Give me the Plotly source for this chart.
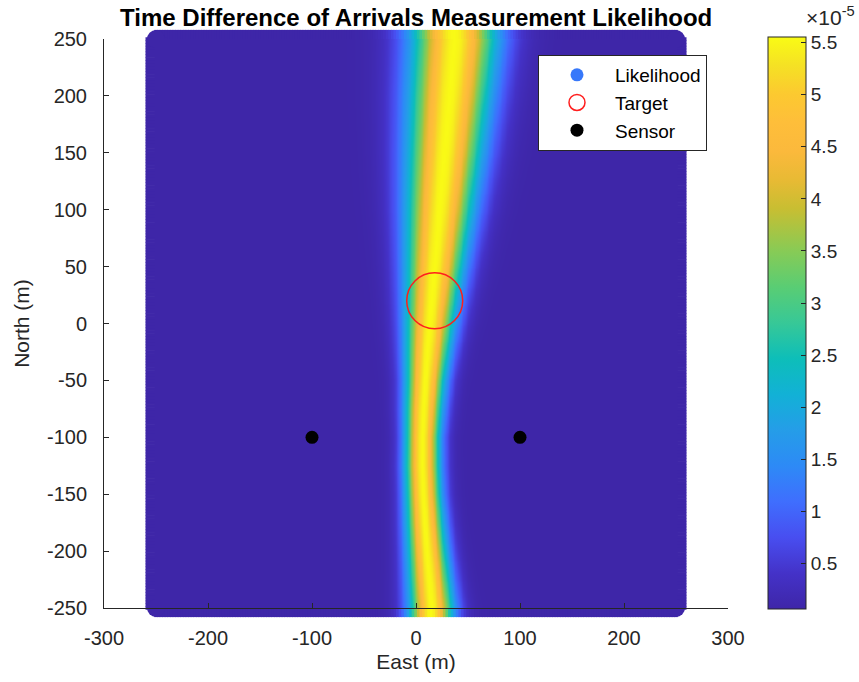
import numpy as np
import plotly.graph_objects as go

# ---------------- data ----------------
sensor_east = [-100, 100]
sensor_north = [-100, -100]
target_east = [18]
target_north = [20]

# ridge of the likelihood: centre (east, m) read at several north levels
ridge_north = [-250, -225, -200, -175, -150, -125, -100, -75, -50, -25, 0,
               25, 50, 75, 100, 125, 150, 175, 200, 225, 250]
ridge_east = [14.6, 12.3, 10.1, 8.1, 6.5, 5.6, 5.7, 6.8, 8.5, 10.5, 12.7,
              15.0, 17.4, 19.8, 22.2, 24.6, 27.1, 29.5, 31.9, 34.4, 36.9]
# spread of the ridge (m) read at coarser north levels
spread_north = [-250, -200, -150, -100, -50, 0, 50, 100, 150, 200, 250]
spread_sigma = [14.5, 13.0, 11.8, 11.5, 13.0, 16.0, 19.0, 22.0, 24.5, 26.5, 28.0]
profile_power = 2.0
peak_likelihood = 5.55e-5
floor_likelihood = 0.068e-5

cbar_ticks = [0.5, 1, 1.5, 2, 2.5, 3, 3.5, 4, 4.5, 5, 5.5]
cbar_ticktext = ["0.5", "1", "1.5", "2", "2.5", "3", "3.5", "4", "4.5", "5", "5.5"]
x_ticks = [-300, -200, -100, 0, 100, 200, 300]
x_ticktext = ["-300", "-200", "-100", "0", "100", "200", "300"]
y_ticks = [-250, -200, -150, -100, -50, 0, 50, 100, 150, 200, 250]
y_ticktext = ["-250", "-200", "-150", "-100", "-50", "0", "50", "100", "150", "200", "250"]

# ---------------- likelihood field on the grid ----------------
step = 2.5
east = np.arange(-250, 250 + step / 2, step)
north = np.arange(-250, 250 + step / 2, step)
E, N = np.meshgrid(east, north)
cen = np.interp(N, ridge_north, ridge_east)
sig = np.interp(N, spread_north, spread_sigma)
Z = floor_likelihood + (peak_likelihood - floor_likelihood) * np.exp(
    -0.5 * np.abs((E - cen) / sig) ** profile_power)

# edge samples of the grid: drawn underneath the field so the scatter-like border pokes out
top_bottom = (np.abs(N) == 250)
left_right = (np.abs(E) == 250)
corners = top_bottom & left_right

parula = [
    [0.0, 'rgb(62,38,168)'],
    [0.0625, 'rgb(68,50,200)'],
    [0.125, 'rgb(72,78,240)'],
    [0.1875, 'rgb(63,110,254)'],
    [0.25, 'rgb(45,138,246)'],
    [0.3125, 'rgb(37,157,232)'],
    [0.375, 'rgb(18,177,214)'],
    [0.4375, 'rgb(13,190,185)'],
    [0.5, 'rgb(55,200,151)'],
    [0.5625, 'rgb(89,205,116)'],
    [0.625, 'rgb(135,203,86)'],
    [0.7, 'rgb(200,190,50)'],
    [0.75, 'rgb(232,186,52)'],
    [0.8, 'rgb(251,185,60)'],
    [0.85, 'rgb(254,190,58)'],
    [0.9, 'rgb(252,201,48)'],
    [0.95, 'rgb(245,225,36)'],
    [1.0, 'rgb(249,251,21)'],
]

FONT = "Liberation Sans, Arial, Helvetica, sans-serif"
AX = "#262626"

fig = go.Figure()
# border pieces (main axes, beneath the field)
fig.add_trace(go.Scatter(
    x=E[top_bottom], y=N[top_bottom], mode="markers", showlegend=False, hoverinfo="skip",
    cliponaxis=False, xaxis="x", yaxis="y",
    marker=dict(symbol="line-ns", size=13,
                line=dict(width=3.5, color=Z[top_bottom], coloraxis="coloraxis")),
))
fig.add_trace(go.Scatter(
    x=E[left_right], y=N[left_right], mode="markers", showlegend=False, hoverinfo="skip",
    cliponaxis=False, xaxis="x", yaxis="y",
    marker=dict(symbol="line-ew", size=15,
                line=dict(width=3.5, color=Z[left_right], coloraxis="coloraxis")),
))
fig.add_trace(go.Scatter(
    x=E[corners], y=N[corners], mode="markers", showlegend=False, hoverinfo="skip",
    cliponaxis=False, xaxis="x", yaxis="y",
    marker=dict(size=18, color=Z[corners], coloraxis="coloraxis", line=dict(width=0)),
))
# likelihood field (overlay axes, drawn above the border pieces)
fig.add_trace(go.Heatmap(
    x=east, y=north, z=Z, coloraxis="coloraxis", zsmooth="best", showlegend=False,
    xaxis="x2", yaxis="y2",
))
fig.add_trace(go.Scatter(
    x=target_east, y=target_north, mode="markers", showlegend=False, cliponaxis=False,
    marker=dict(symbol="circle-open", size=56, color="rgb(255,30,30)", line=dict(width=1.5)),
    xaxis="x2", yaxis="y2",
))
fig.add_trace(go.Scatter(
    x=sensor_east, y=sensor_north, mode="markers", showlegend=False,
    marker=dict(symbol="circle", size=13, color="black"),
    xaxis="x2", yaxis="y2",
))
# legend entries
fig.add_trace(go.Scatter(x=[None], y=[None], mode="markers", name="Likelihood",
                         marker=dict(size=13, color="rgb(55,120,250)")))
fig.add_trace(go.Scatter(x=[None], y=[None], mode="markers", name="Target",
                         marker=dict(symbol="circle-open", size=20, color="rgb(255,30,30)",
                                     line=dict(width=1.5))))
fig.add_trace(go.Scatter(x=[None], y=[None], mode="markers", name="Sensor",
                         marker=dict(size=13, color="black")))

axis_common = dict(showgrid=False, zeroline=False, showline=True, linecolor=AX, linewidth=1,
                   ticks="inside", ticklen=5, tickcolor=AX, ticklabelstandoff=12,
                   tickfont=dict(family=FONT, size=20, color=AX))

fig.update_layout(
    width=859, height=682,
    margin=dict(l=104, r=131, t=39, b=70),
    paper_bgcolor="white", plot_bgcolor="white",
    font=dict(family=FONT, size=20, color=AX),
    title=dict(text="<b>Time Difference of Arrivals Measurement Likelihood</b>",
               x=0.4845, xanchor="center", y=0.974, yanchor="middle",
               font=dict(family=FONT, size=24, color="black")),
    coloraxis=dict(
        colorscale=parula, cmin=0.068e-5, cmax=5.558e-5,
        colorbar=dict(
            x=1.064, xanchor="left", xpad=0, y=0.5017, yanchor="middle", ypad=0,
            thickness=38, thicknessmode="pixels", len=572, lenmode="pixels",
            outlinewidth=1, outlinecolor=AX,
            ticks="inside", ticklen=5, tickcolor=AX,
            tickvals=[t * 1e-5 for t in cbar_ticks], ticktext=cbar_ticktext,
            tickfont=dict(family=FONT, size=19, color=AX),
        ),
    ),
    xaxis=dict(range=[-300, 300], tickvals=x_ticks, ticktext=x_ticktext, **axis_common,
               title=dict(text="East (m)", font=dict(family=FONT, size=21, color=AX), standoff=6)),
    yaxis=dict(range=[-250, 250], tickvals=y_ticks, ticktext=y_ticktext, **axis_common,
               title=dict(text="North (m)", font=dict(family=FONT, size=21, color=AX), standoff=11)),
    xaxis2=dict(range=[-300, 300], overlaying="x", anchor="y2", visible=False),
    yaxis2=dict(range=[-250, 250], overlaying="y", anchor="x2", visible=False),
    legend=dict(x=0.6955, y=0.972, xanchor="left", yanchor="top",
                bgcolor="white", bordercolor=AX, borderwidth=1,
                font=dict(family=FONT, size=19, color="black"),
                itemwidth=66, tracegroupgap=0),
    annotations=[dict(text="×10<sup>-5</sup>", xref="paper", yref="paper",
                      x=1.121, y=1.04, xanchor="left", yanchor="middle", showarrow=False,
                      font=dict(family=FONT, size=21, color=AX))],
)

fig.write_html("out.html")
